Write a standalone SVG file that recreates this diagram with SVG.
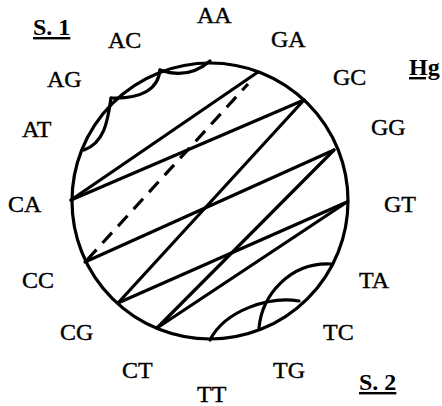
<svg xmlns="http://www.w3.org/2000/svg" width="442" height="406" viewBox="0 0 442 406">
<style>
.lbl{font-family:"Liberation Serif","Times New Roman",serif;font-size:24px;fill:#000;stroke:#000;stroke-width:0.4}
.hdr{font-family:"Liberation Serif","Times New Roman",serif;font-size:24px;font-weight:bold;fill:#000;text-decoration:underline}
.ln{stroke:#000;stroke-width:3.2;fill:none;stroke-linecap:round}
.dash{stroke:#000;stroke-width:3.2;fill:none;stroke-dasharray:14 9}
</style>
<rect width="442" height="406" fill="#fff"/>
<g id="circle"><circle cx="210" cy="201" r="138" class="ln"/></g>
<g id="connectors">
<line x1="71" y1="200" x2="258" y2="72" class="ln"/>
<line x1="71" y1="200" x2="304" y2="100" class="ln"/>
<line x1="304" y1="100" x2="118" y2="303" class="ln"/>
<line x1="334" y1="150" x2="85" y2="262" class="ln"/>
<line x1="334" y1="150" x2="157" y2="328" class="ln"/>
<line x1="347" y1="202" x2="118" y2="303" class="ln"/>
<line x1="347" y1="202" x2="157" y2="328" class="ln"/>
<line x1="87" y1="260" x2="248" y2="84" class="dash"/>
<path d="M210,61 Q188,80 160,70" class="ln"/>
<path d="M160,70 C158,90 140,99 111,98" class="ln"/>
<path d="M111,98 C108,117 106,142 84,150" class="ln"/>
<path d="M331,264 C290,262 262,295 259,328" class="ln"/>
<path d="M299,301 C270,296 225,310 210,340" class="ln"/>
</g>
<g id="labels">
<text class="lbl" x="197" y="23">AA</text>
<text class="lbl" x="271" y="47">GA</text>
<text class="lbl" x="333" y="85">GC</text>
<text class="lbl" x="371" y="135">GG</text>
<text class="lbl" x="384" y="212">GT</text>
<text class="lbl" x="359" y="288">TA</text>
<text class="lbl" x="323" y="340">TC</text>
<text class="lbl" x="273" y="378">TG</text>
<text class="lbl" x="197" y="402">TT</text>
<text class="lbl" x="122" y="378">CT</text>
<text class="lbl" x="60" y="340">CG</text>
<text class="lbl" x="22" y="288">CC</text>
<text class="lbl" x="8" y="212">CA</text>
<text class="lbl" x="22" y="137">AT</text>
<text class="lbl" x="47" y="87">AG</text>
<text class="lbl" x="108" y="48">AC</text>
<text class="hdr" x="33" y="35">S. 1</text>
<text class="hdr" x="409" y="75">Hg</text>
<text class="hdr" x="359" y="390">S. 2</text>
</g>
</svg>
